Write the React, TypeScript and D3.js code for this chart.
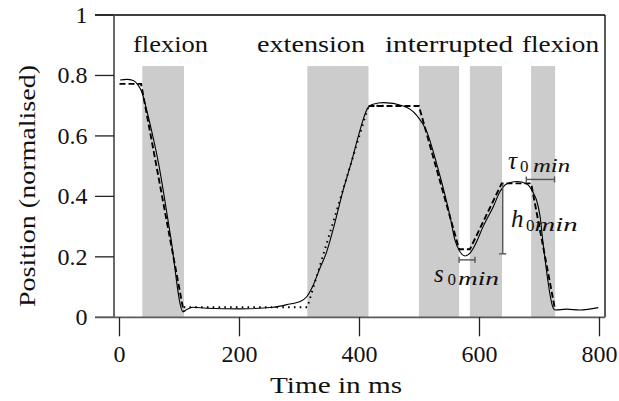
import React from "react";
import * as d3 from "d3";

// ---- data (ms, normalised position) ----
const measuredT = [1, 12, 23, 31, 37, 42.5, 48, 65, 85, 106, 112, 123, 145, 201, 256, 284, 301, 312, 323, 334, 345, 358, 372, 386, 401, 412, 422.5, 440, 473, 495, 512, 529, 551, 559, 567.5, 576, 584, 592.5, 606, 623, 634, 645, 662, 679, 690, 695, 701, 706, 723, 726, 745, 767, 798];
const measuredV = [0.785, 0.787, 0.783, 0.768, 0.746, 0.708, 0.664, 0.51, 0.27, 0.018, 0.026, 0.033, 0.03, 0.028, 0.033, 0.044, 0.052, 0.068, 0.107, 0.162, 0.215, 0.305, 0.415, 0.51, 0.62, 0.686, 0.705, 0.71, 0.699, 0.669, 0.615, 0.505, 0.333, 0.256, 0.217, 0.203, 0.212, 0.239, 0.3, 0.366, 0.415, 0.441, 0.449, 0.441, 0.41, 0.388, 0.333, 0.245, 0.03, 0.024, 0.027, 0.024, 0.032];

const fitFlexT = [0, 36, 107];
const fitFlexV = [0.772, 0.772, 0.018];
const fitExtT = [107, 313, 415, 440];
const fitExtV = [0.033, 0.033, 0.70, 0.70];
const fitIntT = [415, 499, 566, 584, 637, 686, 726];
const fitIntV = [0.699, 0.699, 0.225, 0.225, 0.443, 0.443, 0.025];

const bandStart = [38, 313, 499, 584, 686];
const bandEnd = [107.5, 415, 566, 637.5, 726];
const bandTop = 0.831;

const xTicks = [0, 200, 400, 600, 800];
const yTicks = [0, 0.2, 0.4, 0.6, 0.8, 1];
const yTickLabels = ["0", "0.2", "0.4", "0.6", "0.8", "1"];

const phaseLabels = ["flexion", "extension", "interrupted", "flexion"];
const phaseLeft = [133, 257, 385, 522];
const phaseWidth = [75, 108, 128, 77];

// annotation brackets in data units
const sBracket = { t0: 566, t1: 592.5, v: 0.19 };
const hBracket = { t: 638.7, v0: 0.21, v1: 0.443 };
const tauBracket = { t0: 678, t1: 725, v: 0.456 };

export default function App() {
  React.useEffect(() => {
    document.body.style.margin = "0";
  }, []);
  const W = 619, H = 401;
  const x = d3.scaleLinear().domain([0, 800]).range([119.5, 599.5]);
  const y = d3.scaleLinear().domain([0, 1]).range([317.3, 15]);
  const xL = 114, xR = 605, yT = y(1), yB = y(0);
  const tickOut = 19;

  const line = d3.line<[number, number]>().x(d => x(d[0])).y(d => y(d[1]));
  const curveLine = d3.line<[number, number]>().x(d => x(d[0])).y(d => y(d[1])).curve(d3.curveMonotoneX);
  const zip = (a: number[], b: number[]) => a.map((t, i) => [t, b[i]] as [number, number]);

  const fontStyle = { fontFamily: '"Liberation Serif", Tinos, "Times New Roman", Times, "Nimbus Roman", serif' };
  const fs = 24;
  const axisCol = "#5a5a5a";
  const annCol = "#555";

  const brH = (t0: number, t1: number, v: number) => {
    const yy = y(v);
    return (
      <g stroke={annCol} strokeWidth={1.4}>
        <line x1={x(t0)} x2={x(t1)} y1={yy} y2={yy} />
        <line x1={x(t0)} x2={x(t0)} y1={yy - 3} y2={yy + 3} />
        <line x1={x(t1)} x2={x(t1)} y1={yy - 3} y2={yy + 3} />
      </g>
    );
  };

  const mathLabel = (sym: string, sx: number, base: number, zx: number, mx: number, mw: number, subBase: number) => (
    <g style={fontStyle} fill="#111">
      <text x={sx} y={base} fontSize={25} fontStyle="italic">{sym}</text>
      <text x={zx} y={subBase} fontSize={17}>0</text>
      <text x={mx} y={subBase} fontSize={18} fontStyle="italic" textLength={mw} lengthAdjust="spacingAndGlyphs">min</text>
    </g>
  );

  return (
    <div style={{ position: "absolute", left: 0, top: 0 }}>
      <svg width={W} height={H} viewBox={`0 0 ${W} ${H}`} style={{ display: "block", background: "#fff", ...fontStyle }}>
        {/* bands */}
        {bandStart.map((s, i) => (
          <rect key={i} x={x(s)} y={y(bandTop)} width={x(bandEnd[i]) - x(s)} height={y(0) - y(bandTop)} fill="#cccccc" />
        ))}
        {/* frame */}
        <line x1={xL - tickOut} x2={xR} y1={yT} y2={yT} stroke="#000" strokeWidth={1.3} />
        <line x1={xR} x2={xR} y1={yT} y2={yB} stroke="#000" strokeWidth={1.3} />
        <line x1={xL} x2={xL} y1={yT} y2={yB} stroke={axisCol} strokeWidth={1.8} />
        <line x1={xL - tickOut} x2={xR} y1={yB} y2={yB} stroke={axisCol} strokeWidth={1.8} />
        {/* y ticks */}
        {yTicks.map((v, i) => (
          <g key={i}>
            <line x1={xL - tickOut} x2={xL} y1={y(v)} y2={y(v)} stroke={i === 0 ? axisCol : "#222"} strokeWidth={1.3} />
            <text x={87.5} y={y(v) + 8} textAnchor="end" style={fontStyle} fontSize={fs} fill="#111">{yTickLabels[i]}</text>
          </g>
        ))}
        {/* x ticks */}
        {xTicks.map((t, i) => (
          <g key={i}>
            <line x1={x(t)} x2={x(t)} y1={yB} y2={yB + 19} stroke="#222" strokeWidth={1.3} />
            <text x={x(t)} y={362.3} textAnchor="middle" style={fontStyle} fontSize={fs} fill="#111">{t}</text>
          </g>
        ))}
        {/* axis titles */}
        <text x={270} y={393.3} style={fontStyle} fontSize={fs} fill="#111" textLength={132} lengthAdjust="spacingAndGlyphs">Time in ms</text>
        <text transform="translate(35,186) rotate(-90)" x={0} y={0} textAnchor="middle" style={fontStyle} fontSize={fs} fill="#111" textLength={242} lengthAdjust="spacingAndGlyphs">Position (normalised)</text>
        {/* phase labels */}
        {phaseLabels.map((p, i) => (
          <text key={i} x={phaseLeft[i]} y={51.7} style={fontStyle} fontSize={fs} fill="#111" textLength={phaseWidth[i]} lengthAdjust="spacingAndGlyphs">{p}</text>
        ))}
        {/* fits */}
        <path d={line(zip(fitFlexT, fitFlexV)) || ""} fill="none" stroke="#000" strokeWidth={1.9} strokeDasharray="6,3" />
        <path d={line(zip(fitExtT, fitExtV)) || ""} fill="none" stroke="#000" strokeWidth={1.9} strokeDasharray="1.6,4.2" />
        <path d={line(zip(fitIntT, fitIntV)) || ""} fill="none" stroke="#000" strokeWidth={1.9} strokeDasharray="6,3" />
        {/* measured */}
        <path d={curveLine(zip(measuredT, measuredV)) || ""} fill="none" stroke="#000" strokeWidth={1.1} />
        {/* annotations */}
        {brH(sBracket.t0, sBracket.t1, sBracket.v)}
        {brH(tauBracket.t0, tauBracket.t1, tauBracket.v)}
        <g stroke={annCol} strokeWidth={1.4}>
          <line x1={x(hBracket.t)} x2={x(hBracket.t)} y1={y(hBracket.v0)} y2={y(hBracket.v1)} />
          <line x1={x(hBracket.t) - 3.5} x2={x(hBracket.t) + 3.5} y1={y(hBracket.v0)} y2={y(hBracket.v0)} />
        </g>
        {mathLabel("s", 434, 282, 447.5, 458, 41, 284.5)}
        {mathLabel("h", 511, 227.3, 526, 534.5, 43, 230.5)}
        {mathLabel("\u03C4", 508, 168.5, 520, 533, 37, 171.5)}
      </svg>
    </div>
  );
}
